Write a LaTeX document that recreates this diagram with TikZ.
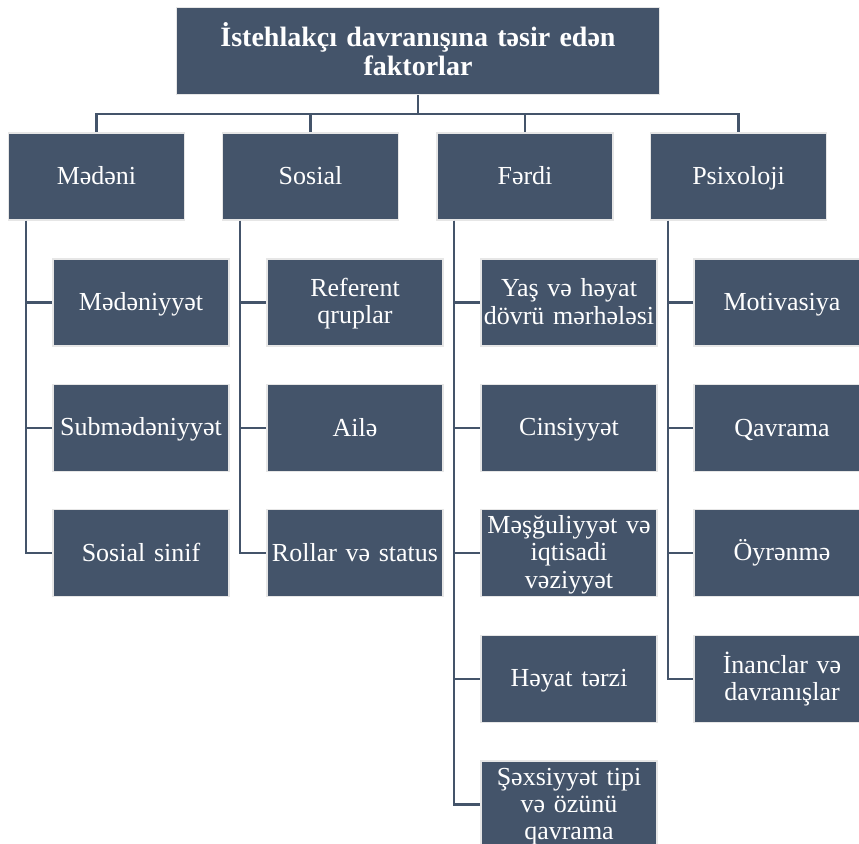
\documentclass[tikz,border=0pt]{standalone}
\usepackage{fontspec}
\setmainfont{Liberation Serif}
\definecolor{boxcol}{RGB}{68,84,106}
\definecolor{edgecol}{RGB}{230,230,230}
\newcommand\boxstrut{\rule[-5.5pt]{0pt}{27pt}}
\newcommand\titlestrut{\rule[-4pt]{0pt}{27pt}}
\begin{document}
\begin{tikzpicture}[x=1pt,y=-1pt,
  box/.style={draw=edgecol, line width=1.5pt, fill=boxcol, text=white,
    minimum width=176pt, minimum height=87pt, inner sep=1pt,
    text width=174pt, align=center, font=\fontsize{26}{27}\selectfont,
    execute at begin node=\boxstrut, execute at end node=\boxstrut},
  topbox/.style={draw=edgecol, line width=1.5pt, fill=boxcol, text=white,
    minimum width=483pt, minimum height=87pt, inner sep=1pt,
    text width=470pt, align=center, font=\bfseries\fontsize{28}{27}\selectfont,
    execute at begin node=\titlestrut, execute at end node=\titlestrut},
  conn/.style={draw=boxcol, line width=2.2pt}]
\useasboundingbox (0,0) rectangle (859,843);
% top
\node[topbox] (top) at (418,51) {İstehlakçı davranışına təsir edən\\faktorlar};
\coordinate (bar) at (0,114);
% level 1
\node[box] (m) at (96.5,176.5) {Mədəni};
\node[box] (s) at (310.5,176.5) {Sosial};
\node[box] (f) at (525,176.5) {Fərdi};
\node[box] (p) at (738.5,176.5) {Psixoloji};
% Mədəni children
\node[box] (m1) at (141,302.5) {Mədəniyyət};
\node[box] (m2) at (141,428) {Submədəniyyət};
\node[box] (m3) at (141,553) {Sosial sinif};
% Sosial children
\node[box] (s1) at (355,302.5) {Referent\\qruplar};
\node[box] (s2) at (355,428) {Ailə};
\node[box] (s3) at (355,553) {Rollar və status};
% Fərdi children
\node[box] (f1) at (569,302.5) {Yaş və həyat\\dövrü mərhələsi};
\node[box] (f2) at (569,428) {Cinsiyyət};
\node[box] (f3) at (569,553) {Məşğuliyyət və\\iqtisadi\\vəziyyət};
\node[box] (f4) at (569,679) {Həyat tərzi};
\node[box] (f5) at (569,804.5) {Şəxsiyyət tipi\\və özünü\\qavrama};
% Psixoloji children
\node[box] (p1) at (782,302.5) {Motivasiya};
\node[box] (p2) at (782,428) {Qavrama};
\node[box] (p3) at (782,553) {Öyrənmə};
\node[box] (p4) at (782,679) {İnanclar və\\davranışlar};
% top connectors
\foreach \n in {m,s,f,p}{
  \draw[conn] (top.south) -- (top.south |- bar) -| (\n.north);
}
% child connectors
\foreach \pn/\kids in {m/{m1,m2,m3}, s/{s1,s2,s3}, f/{f1,f2,f3,f4,f5}, p/{p1,p2,p3,p4}}{
  \foreach \k in \kids {
    \draw[conn] ([xshift=18pt]\pn.south west) |- (\k.west);
  }
}
\end{tikzpicture}
\end{document}
